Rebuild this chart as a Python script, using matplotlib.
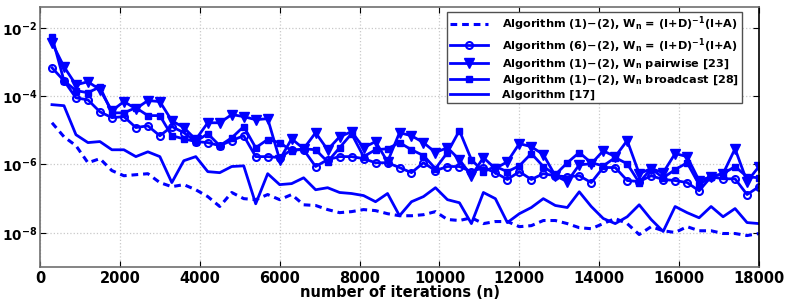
import numpy as np
import matplotlib
matplotlib.use("Agg")
import matplotlib.pyplot as plt
from matplotlib.ticker import FixedLocator, NullLocator

plt.rcParams['font.family'] = ['DejaVu Sans']
plt.rcParams['font.weight'] = 'bold'
plt.rcParams['mathtext.fontset'] = 'dejavusans'
plt.rcParams['mathtext.default'] = 'bf'

# iterations n = 300, 600, ..., 18000
iterations = np.arange(300, 18001, 300)

# log10 of the error
log_dashed = [-4.78, -5.19, -5.45, -5.95, -5.83, -6.18, -6.33, -6.30, -6.27, -6.53,
              -6.65, -6.59, -6.74, -6.94, -7.23, -6.82, -7.00, -7.03, -6.88, -7.03,
              -6.88, -7.18, -7.20, -7.32, -7.41, -7.38, -7.32, -7.35, -7.44, -7.50,
              -7.50, -7.47, -7.38, -7.61, -7.64, -7.56, -7.73, -7.67, -7.67, -7.82,
              -7.79, -7.64, -7.64, -7.73, -7.85, -7.88, -7.73, -7.58, -7.73, -8.05,
              -7.82, -7.94, -7.99, -7.82, -7.94, -7.94, -8.02, -8.02, -8.08, -8.02]

log_circle = [-3.17, -3.55, -4.05, -4.11, -4.46, -4.63, -4.60, -4.92, -4.87, -5.16,
              -4.89, -5.07, -5.33, -5.36, -5.45, -5.30, -5.16, -5.77, -5.77, -5.80,
              -5.57, -5.57, -6.06, -5.86, -5.77, -5.77, -5.83, -5.95, -5.95, -6.09,
              -6.24, -5.95, -6.18, -6.06, -6.06, -6.21, -6.09, -6.24, -6.44, -6.21,
              -6.44, -6.27, -6.33, -6.36, -6.33, -6.53, -6.09, -6.09, -6.47, -6.50,
              -6.33, -6.44, -6.47, -6.53, -6.77, -6.36, -6.42, -6.42, -6.88, -6.65]

log_pairwise = [-2.44, -3.14, -3.67, -3.58, -3.81, -4.43, -4.16, -4.37, -4.13, -4.16,
                -4.72, -4.92, -5.27, -4.78, -4.78, -4.54, -4.60, -4.69, -4.66, -5.86,
                -5.25, -5.54, -5.07, -5.57, -5.19, -5.04, -5.51, -5.33, -5.92, -5.07,
                -5.16, -5.36, -5.65, -5.51, -5.86, -6.33, -5.80, -6.12, -5.92, -5.39,
                -5.48, -5.71, -6.33, -6.50, -6.01, -5.98, -5.60, -5.77, -5.30, -6.27,
                -6.12, -6.24, -5.68, -5.77, -6.47, -6.36, -6.27, -5.54, -6.50, -6.06]

log_broadcast = [-2.26, -3.55, -3.84, -3.90, -3.73, -4.49, -4.49, -4.34, -4.57, -4.57,
                 -5.16, -5.25, -5.33, -5.10, -5.45, -5.22, -4.89, -5.51, -5.27, -5.36,
                 -5.60, -5.54, -5.57, -5.92, -5.51, -5.10, -5.77, -5.57, -5.54, -5.36,
                 -5.57, -5.74, -6.12, -5.65, -5.01, -5.86, -6.21, -6.06, -6.21, -6.04,
                 -5.68, -6.06, -6.30, -5.95, -5.65, -5.95, -6.04, -5.80, -5.98, -6.53,
                 -6.12, -6.39, -6.15, -5.95, -6.59, -6.36, -6.27, -6.06, -6.36, -6.39]

log_alg17 = [-4.25, -4.28, -5.13, -5.36, -5.33, -5.57, -5.57, -5.77, -5.63, -5.77,
             -6.53, -5.89, -5.77, -6.21, -6.24, -6.06, -6.04, -7.15, -6.27, -6.59,
             -6.56, -6.39, -6.74, -6.68, -6.82, -6.85, -6.91, -7.09, -6.85, -7.50,
             -7.09, -6.94, -6.68, -7.03, -7.12, -7.73, -6.82, -7.00, -7.70, -7.44,
             -7.26, -7.00, -7.20, -7.26, -6.80, -7.23, -7.58, -7.73, -7.53, -7.18,
             -7.61, -7.96, -7.23, -7.41, -7.56, -7.23, -7.53, -7.29, -7.70, -7.73]

labels = [r'Algorithm (1)$-$(2), W$_\mathbf{n}$ = (I+D)$^\mathbf{-1}$(I+A)',
          r'Algorithm (6)$-$(2), W$_\mathbf{n}$ = (I+D)$^\mathbf{-1}$(I+A)',
          r'Algorithm (1)$-$(2), W$_\mathbf{n}$ pairwise [23]',
          r'Algorithm (1)$-$(2), W$_\mathbf{n}$ broadcast [28]',
          'Algorithm [17]']

blue = (0, 0, 1)

fig = plt.figure(figsize=(7.89, 3.0), dpi=100)
ax = fig.add_axes([0.0507, 0.11, 0.9113, 0.867])

ax.plot(iterations, 10.0 ** np.array(log_dashed), '--', color=blue, lw=2.2,
        dashes=(2.2, 1.6), label=labels[0])
ax.plot(iterations, 10.0 ** np.array(log_circle), '-o', color=blue, lw=2,
        ms=5, mfc='none', mew=1.5, label=labels[1])
ax.plot(iterations, 10.0 ** np.array(log_pairwise), '-v', color=blue, lw=2,
        ms=6.5, label=labels[2])
ax.plot(iterations, 10.0 ** np.array(log_broadcast), '-s', color=blue, lw=2,
        ms=4.5, label=labels[3])
ax.plot(iterations, 10.0 ** np.array(log_alg17), '-', color=blue, lw=2,
        label=labels[4])

ax.set_yscale('log')
ax.set_xlim(0, 18000)
ax.set_ylim(1e-9, 10 ** -1.39)

ax.xaxis.set_major_locator(FixedLocator(np.arange(0, 18001, 2000)))
ax.set_xticklabels([str(v) for v in range(0, 18001, 2000)])
ax.yaxis.set_major_locator(FixedLocator([1e-2, 1e-4, 1e-6, 1e-8]))
ax.yaxis.set_minor_locator(NullLocator())
ax.set_yticklabels([r'$\mathbf{10^{-2}}$', r'$\mathbf{10^{-4}}$',
                    r'$\mathbf{10^{-6}}$', r'$\mathbf{10^{-8}}$'])

ax.tick_params(axis='both', which='both', direction='in', top=True, right=True,
               labelsize=10.5, length=4, pad=3)
ax.tick_params(axis='y', labelsize=9.8, pad=2)
for lab in ax.get_xticklabels() + ax.get_yticklabels():
    lab.set_fontweight('bold')

ax.grid(True, which='major', linestyle=':', color='#c8c8c8', lw=0.9)

for side in ['left', 'bottom', 'top']:
    ax.spines[side].set_color('#707070')
    ax.spines[side].set_linewidth(1.2)
ax.spines['right'].set_color('black')
ax.spines['right'].set_linewidth(1.2)

ax.set_xlabel('number of iterations (n)', fontsize=10.5, fontweight='bold',
              labelpad=-1)

leg = ax.legend(loc='upper right', bbox_to_anchor=(0.979, 0.99), fontsize=8.1,
                handlelength=3.4, handletextpad=1.2, borderpad=0.25,
                labelspacing=0.25, borderaxespad=0.2, fancybox=False,
                framealpha=1, edgecolor='#505050')
leg.get_frame().set_linewidth(1.0)
for t in leg.get_texts():
    t.set_fontweight('bold')

fig.savefig('out.png', dpi=100)
